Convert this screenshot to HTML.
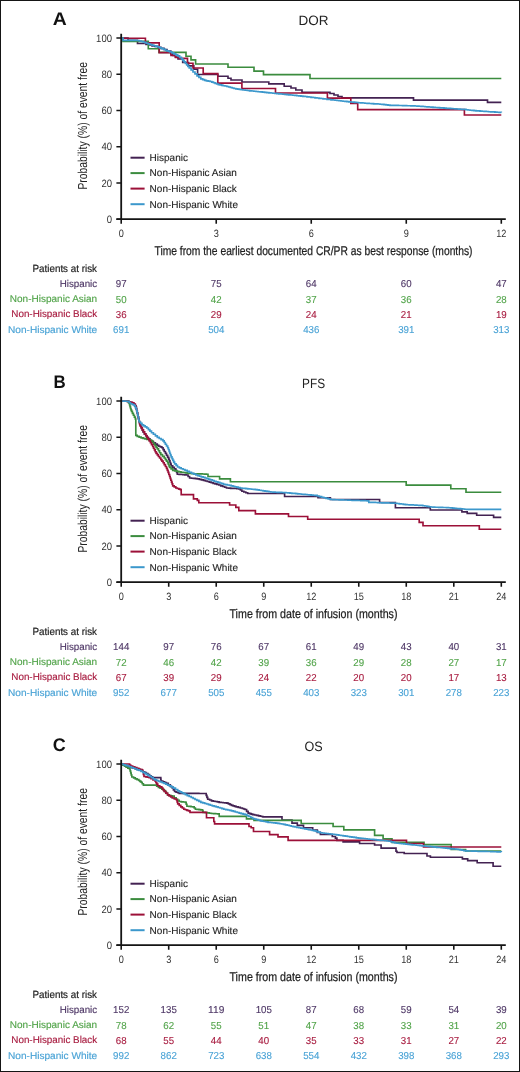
<!DOCTYPE html>
<html><head><meta charset="utf-8"><style>
html,body{margin:0;padding:0;background:#fff;}
body{width:520px;height:1072px;overflow:hidden;}
svg{display:block;font-family:"Liberation Sans",sans-serif;will-change:transform;text-rendering:geometricPrecision;}
</style></head><body>
<svg width="520" height="1072" viewBox="0 0 520 1072">
<rect x="0" y="0" width="520" height="1072" fill="#fff"/>
<text x="52.80" y="25.40" font-size="18.2" text-anchor="start" fill="#111" font-weight="bold" textLength="14.0" lengthAdjust="spacingAndGlyphs" >A</text>
<text x="313.60" y="25.40" font-size="13.5" text-anchor="middle" fill="#222" >DOR</text>
<path d="M121.2,38.0 L128.0,38.0 L128.0,40.3 L137.5,40.3 L137.5,43.5 L144.0,43.5 L144.0,43.5 L146.0,43.5 L146.0,44.5 L149.0,44.5 L149.0,45.0 L152.0,45.0 L152.0,45.8 L155.0,45.8 L155.0,46.4 L158.0,46.4 L158.0,47.2 L161.0,47.2 L161.0,48.3 L164.0,48.3 L164.0,49.5 L167.0,49.5 L167.0,51.0 L170.8,51.0 L170.8,53.8 L173.0,53.8 L173.0,55.4 L175.4,55.4 L175.4,57.0 L178.0,57.0 L178.0,59.0 L182.7,59.0 L182.7,62.5 L188.5,62.5 L188.5,65.9 L193.8,65.9 L193.8,69.2 L197.6,69.2 L197.6,74.5 L217.8,74.5 L217.8,76.2 L228.0,76.2 L228.0,78.2 L231.0,78.2 L231.0,80.0 L242.0,80.0 L242.0,82.0 L268.8,82.0 L268.8,83.8 L284.2,83.8 L284.2,86.2 L291.0,86.2 L291.0,88.0 L295.8,88.0 L295.8,90.0 L302.0,90.0 L302.0,92.3 L330.0,92.3 L330.0,93.5 L334.0,93.5 L334.0,95.0 L338.0,95.0 L338.0,96.5 L342.0,96.5 L342.0,97.8 L413.5,97.8 L413.5,100.1 L487.5,100.1 L487.5,102.3 L501.3,102.3" fill="none" stroke="#432252" stroke-width="1.65" stroke-linejoin="miter"/>
<path d="M121.2,38.0 L123.0,38.0 L123.0,41.3 L148.3,41.3 L148.3,48.7 L159.0,48.7 L159.0,52.3 L186.0,52.3 L186.0,56.2 L191.0,56.2 L191.0,59.8 L195.6,59.8 L195.6,64.0 L228.0,64.0 L228.0,67.2 L254.0,67.2 L254.0,71.1 L263.5,71.1 L263.5,74.6 L310.0,74.6 L310.0,78.5 L501.3,78.5" fill="none" stroke="#3b8c3e" stroke-width="1.65" stroke-linejoin="miter"/>
<path d="M121.2,38.2 L145.4,38.2 L145.4,42.8 L159.2,42.8 L159.2,52.6 L171.0,52.6 L171.0,55.3 L175.5,55.3 L175.5,57.5 L179.0,57.5 L179.0,58.3 L187.5,58.3 L187.5,63.2 L193.0,63.2 L193.0,68.0 L203.2,68.0 L203.2,73.6 L217.8,73.6 L217.8,83.1 L241.9,83.1 L241.9,88.5 L275.5,88.5 L275.5,93.0 L327.4,93.0 L327.4,98.1 L350.8,98.1 L350.8,103.5 L357.7,103.5 L357.7,109.6 L464.4,109.6 L464.4,115.0 L501.3,115.0" fill="none" stroke="#9c1038" stroke-width="1.65" stroke-linejoin="miter"/>
<path d="M121.2,38.0 L123.0,38.0 L123.0,40.3 L125.1,40.3 L125.1,40.3 L127.1,40.3 L127.1,40.4 L129.2,40.4 L129.2,40.4 L131.3,40.4 L131.3,40.4 L133.4,40.4 L133.4,40.4 L135.4,40.4 L135.4,40.5 L137.5,40.5 L137.5,40.5 L139.3,40.5 L139.3,41.0 L141.2,41.0 L141.2,41.5 L143.0,41.5 L143.0,42.0 L144.8,42.0 L144.8,42.6 L146.5,42.6 L146.5,43.2 L148.2,43.2 L148.2,43.9 L150.0,43.9 L150.0,44.5 L151.9,44.5 L151.9,45.1 L153.8,45.1 L153.8,45.7 L155.8,45.7 L155.8,46.3 L157.7,46.3 L157.7,46.9 L159.6,46.9 L159.6,47.8 L161.6,47.8 L161.6,48.6 L163.5,48.6 L163.5,49.4 L165.4,49.4 L165.4,50.3 L166.9,50.3 L166.9,50.8 L168.5,50.8 L168.5,51.4 L170.0,51.4 L170.0,51.9 L171.9,51.9 L171.9,52.9 L173.8,52.9 L173.8,53.8 L175.8,53.8 L175.8,54.8 L177.7,54.8 L177.7,55.8 L179.6,55.8 L179.6,57.3 L181.5,57.3 L181.5,58.8 L182.8,58.8 L182.8,60.4 L184.1,60.4 L184.1,61.9 L185.4,61.9 L185.4,63.5 L186.7,63.5 L186.7,65.0 L187.9,65.0 L187.9,66.5 L189.2,66.5 L189.2,68.0 L191.1,68.0 L191.1,70.0 L193.0,70.0 L193.0,72.0 L195.0,72.0 L195.0,73.9 L197.0,73.9 L197.0,75.8 L198.9,75.8 L198.9,77.3 L200.8,77.3 L200.8,78.8 L202.7,78.8 L202.7,79.6 L204.6,79.6 L204.6,80.4 L206.4,80.4 L206.4,80.8 L208.2,80.8 L208.2,81.1 L210.0,81.1 L210.0,81.5 L211.8,81.5 L211.8,82.1 L213.5,82.1 L213.5,82.7 L215.1,82.7 L215.1,83.3 L216.7,83.3 L216.7,84.0 L218.3,84.0 L218.3,84.6 L220.0,84.6 L220.0,84.9 L221.7,84.9 L221.7,85.3 L223.3,85.3 L223.3,85.7 L225.0,85.7 L225.0,86.0 L226.8,86.0 L226.8,86.5 L228.6,86.5 L228.6,87.0 L230.4,87.0 L230.4,87.5 L232.2,87.5 L232.2,88.0 L234.0,88.0 L234.0,88.5 L235.8,88.5 L235.8,88.8 L237.6,88.8 L237.6,89.1 L239.4,89.1 L239.4,89.4 L241.2,89.4 L241.2,89.7 L243.0,89.7 L243.0,90.0 L245.2,90.0 L245.2,90.2 L247.3,90.2 L247.3,90.5 L249.5,90.5 L249.5,90.8 L251.7,90.8 L251.7,91.0 L253.8,91.0 L253.8,91.2 L256.0,91.2 L256.0,91.5 L258.1,91.5 L258.1,91.7 L260.3,91.7 L260.3,91.9 L262.4,91.9 L262.4,92.1 L264.6,92.1 L264.6,92.4 L266.7,92.4 L266.7,92.6 L268.9,92.6 L268.9,92.8 L271.0,92.8 L271.0,93.0 L272.9,93.0 L272.9,93.2 L274.9,93.2 L274.9,93.4 L276.8,93.4 L276.8,93.6 L278.8,93.6 L278.8,93.8 L280.7,93.8 L280.7,94.0 L282.6,94.0 L282.6,94.2 L284.6,94.2 L284.6,94.4 L286.5,94.4 L286.5,94.6 L288.6,94.6 L288.6,94.8 L290.6,94.8 L290.6,95.0 L292.7,95.0 L292.7,95.2 L294.7,95.2 L294.7,95.4 L296.8,95.4 L296.8,95.7 L298.8,95.7 L298.8,95.9 L300.9,95.9 L300.9,96.1 L302.9,96.1 L302.9,96.3 L305.0,96.3 L305.0,96.5 L307.0,96.5 L307.0,96.8 L309.0,96.8 L309.0,97.0 L311.0,97.0 L311.0,97.3 L313.0,97.3 L313.0,97.5 L315.0,97.5 L315.0,97.8 L317.0,97.8 L317.0,98.0 L319.0,98.0 L319.0,98.3 L321.0,98.3 L321.0,98.5 L323.0,98.5 L323.0,98.8 L325.0,98.8 L325.0,99.0 L327.0,99.0 L327.0,99.3 L329.0,99.3 L329.0,99.5 L331.0,99.5 L331.0,99.8 L333.0,99.8 L333.0,100.0 L335.0,100.0 L335.0,100.2 L337.0,100.2 L337.0,100.5 L339.0,100.5 L339.0,100.7 L341.0,100.7 L341.0,101.0 L343.0,101.0 L343.0,101.2 L344.9,101.2 L344.9,101.4 L346.9,101.4 L346.9,101.6 L348.8,101.6 L348.8,101.8 L350.8,101.8 L350.8,102.0 L352.7,102.0 L352.7,102.1 L354.6,102.1 L354.6,102.3 L356.6,102.3 L356.6,102.5 L358.5,102.5 L358.5,102.7 L360.6,102.7 L360.6,102.9 L362.8,102.9 L362.8,103.0 L364.9,103.0 L364.9,103.2 L367.1,103.2 L367.1,103.3 L369.2,103.3 L369.2,103.5 L371.4,103.5 L371.4,103.6 L373.6,103.6 L373.6,103.8 L375.7,103.8 L375.7,103.9 L377.9,103.9 L377.9,104.0 L380.0,104.0 L380.0,104.2 L382.0,104.2 L382.0,104.4 L384.0,104.4 L384.0,104.6 L386.0,104.6 L386.0,104.9 L388.0,104.9 L388.0,105.1 L390.0,105.1 L390.0,105.3 L392.1,105.3 L392.1,105.3 L394.2,105.3 L394.2,105.4 L396.3,105.4 L396.3,105.4 L398.4,105.4 L398.4,105.5 L400.5,105.5 L400.5,105.5 L402.5,105.5 L402.5,105.6 L404.6,105.6 L404.6,105.6 L406.7,105.6 L406.7,105.7 L408.8,105.7 L408.8,105.7 L410.9,105.7 L410.9,105.8 L413.0,105.8 L413.0,105.8 L415.0,105.8 L415.0,106.0 L417.0,106.0 L417.0,106.1 L419.0,106.1 L419.0,106.2 L421.0,106.2 L421.0,106.4 L423.0,106.4 L423.0,106.5 L425.0,106.5 L425.0,106.7 L427.0,106.7 L427.0,106.8 L429.0,106.8 L429.0,107.0 L431.0,107.0 L431.0,107.1 L433.0,107.1 L433.0,107.3 L435.2,107.3 L435.2,107.5 L437.4,107.5 L437.4,107.6 L439.6,107.6 L439.6,107.8 L441.8,107.8 L441.8,107.9 L444.0,107.9 L444.0,108.1 L446.2,108.1 L446.2,108.3 L448.4,108.3 L448.4,108.4 L450.6,108.4 L450.6,108.6 L452.8,108.6 L452.8,108.7 L455.0,108.7 L455.0,108.9 L456.8,108.9 L456.8,109.0 L458.6,109.0 L458.6,109.1 L460.4,109.1 L460.4,109.2 L462.2,109.2 L462.2,109.3 L464.0,109.3 L464.0,109.4 L466.0,109.4 L466.0,109.7 L468.0,109.7 L468.0,110.0 L470.0,110.0 L470.0,110.2 L472.0,110.2 L472.0,110.4 L474.0,110.4 L474.0,110.6 L476.0,110.6 L476.0,110.8 L478.0,110.8 L478.0,110.9 L480.0,110.9 L480.0,111.1 L482.0,111.1 L482.0,111.2 L484.1,111.2 L484.1,111.4 L486.3,111.4 L486.3,111.5 L488.4,111.5 L488.4,111.7 L490.6,111.7 L490.6,111.8 L492.7,111.8 L492.7,111.9 L494.9,111.9 L494.9,112.1 L497.0,112.1 L497.0,112.2 L499.2,112.2 L499.2,112.4 L501.3,112.4 L501.3,112.5" fill="none" stroke="#3c98cc" stroke-width="1.65" stroke-linejoin="miter"/>
<path d="M121.20,33.80 V219.20 M116.40,219.20 H505.8" stroke="#141414" stroke-width="1.8" fill="none"/>
<path d="M116.40,219.20 H121.20 M116.40,182.96 H121.20 M116.40,146.72 H121.20 M116.40,110.48 H121.20 M116.40,74.24 H121.20 M116.40,38.00 H121.20 M121.20,219.20 V223.70 M216.23,219.20 V223.70 M311.25,219.20 V223.70 M406.27,219.20 V223.70 M501.30,219.20 V223.70 " stroke="#141414" stroke-width="1.6" fill="none"/>
<text x="112.00" y="222.90" font-size="10.6" text-anchor="end" fill="#333" textLength="5.3" lengthAdjust="spacingAndGlyphs" >0</text>
<text x="112.00" y="186.66" font-size="10.6" text-anchor="end" fill="#333" textLength="10.6" lengthAdjust="spacingAndGlyphs" >20</text>
<text x="112.00" y="150.42" font-size="10.6" text-anchor="end" fill="#333" textLength="10.6" lengthAdjust="spacingAndGlyphs" >40</text>
<text x="112.00" y="114.18" font-size="10.6" text-anchor="end" fill="#333" textLength="10.6" lengthAdjust="spacingAndGlyphs" >60</text>
<text x="112.00" y="77.94" font-size="10.6" text-anchor="end" fill="#333" textLength="10.6" lengthAdjust="spacingAndGlyphs" >80</text>
<text x="112.00" y="41.70" font-size="10.6" text-anchor="end" fill="#333" textLength="15.9" lengthAdjust="spacingAndGlyphs" >100</text>
<text x="121.20" y="237.00" font-size="10.6" text-anchor="middle" fill="#333" textLength="5.1" lengthAdjust="spacingAndGlyphs" >0</text>
<text x="216.23" y="237.00" font-size="10.6" text-anchor="middle" fill="#333" textLength="5.1" lengthAdjust="spacingAndGlyphs" >3</text>
<text x="311.25" y="237.00" font-size="10.6" text-anchor="middle" fill="#333" textLength="5.1" lengthAdjust="spacingAndGlyphs" >6</text>
<text x="406.27" y="237.00" font-size="10.6" text-anchor="middle" fill="#333" textLength="5.1" lengthAdjust="spacingAndGlyphs" >9</text>
<text x="501.30" y="237.00" font-size="10.6" text-anchor="middle" fill="#333" textLength="10.2" lengthAdjust="spacingAndGlyphs" >12</text>
<text x="0" y="0" font-size="13" fill="#222" textLength="127.5" lengthAdjust="spacingAndGlyphs" transform="translate(87.0,189.60) rotate(-90)">Probability (%) of event free</text>
<text x="313.50" y="254.80" font-size="12.6" text-anchor="middle" fill="#1e1e1e" textLength="318" lengthAdjust="spacingAndGlyphs" stroke="#1e1e1e" stroke-width="0.25">Time from the earliest documented CR/PR as best response (months)</text>
<path d="M130.5,157.70 H144.6" stroke="#432252" stroke-width="2"/>
<text x="149.60" y="161.00" font-size="10.0" text-anchor="start" fill="#1e1e1e" stroke="#1e1e1e" stroke-width="0.12">Hispanic</text>
<path d="M130.5,173.10 H144.6" stroke="#3b8c3e" stroke-width="2"/>
<text x="149.60" y="176.40" font-size="10.0" text-anchor="start" fill="#1e1e1e" stroke="#1e1e1e" stroke-width="0.12">Non-Hispanic Asian</text>
<path d="M130.5,188.60 H144.6" stroke="#9c1038" stroke-width="2"/>
<text x="149.60" y="191.90" font-size="10.0" text-anchor="start" fill="#1e1e1e" stroke="#1e1e1e" stroke-width="0.12">Non-Hispanic Black</text>
<path d="M130.5,204.20 H144.6" stroke="#3c98cc" stroke-width="2"/>
<text x="149.60" y="207.50" font-size="10.0" text-anchor="start" fill="#1e1e1e" stroke="#1e1e1e" stroke-width="0.12">Non-Hispanic White</text>
<text x="97.00" y="271.50" font-size="10.4" text-anchor="end" fill="#1e1e1e" textLength="64.5" lengthAdjust="spacingAndGlyphs" stroke="#1e1e1e" stroke-width="0.2">Patients at risk</text>
<text x="97.20" y="286.50" font-size="9.9" text-anchor="end" fill="#4e3766" textLength="37.5" lengthAdjust="spacingAndGlyphs" stroke="#4e3766" stroke-width="0.15">Hispanic</text>
<text x="121.20" y="286.90" font-size="10.1" text-anchor="middle" fill="#4e3766" textLength="10.8" lengthAdjust="spacingAndGlyphs" stroke="#4e3766" stroke-width="0.12">97</text>
<text x="216.23" y="286.90" font-size="10.1" text-anchor="middle" fill="#4e3766" textLength="10.8" lengthAdjust="spacingAndGlyphs" stroke="#4e3766" stroke-width="0.12">75</text>
<text x="311.25" y="286.90" font-size="10.1" text-anchor="middle" fill="#4e3766" textLength="10.8" lengthAdjust="spacingAndGlyphs" stroke="#4e3766" stroke-width="0.12">64</text>
<text x="406.27" y="286.90" font-size="10.1" text-anchor="middle" fill="#4e3766" textLength="10.8" lengthAdjust="spacingAndGlyphs" stroke="#4e3766" stroke-width="0.12">60</text>
<text x="501.30" y="286.90" font-size="10.1" text-anchor="middle" fill="#4e3766" textLength="10.8" lengthAdjust="spacingAndGlyphs" stroke="#4e3766" stroke-width="0.12">47</text>
<text x="97.20" y="302.10" font-size="9.9" text-anchor="end" fill="#52a44a" textLength="87.4" lengthAdjust="spacingAndGlyphs" stroke="#52a44a" stroke-width="0.15">Non-Hispanic Asian</text>
<text x="121.20" y="302.50" font-size="10.1" text-anchor="middle" fill="#52a44a" textLength="10.8" lengthAdjust="spacingAndGlyphs" stroke="#52a44a" stroke-width="0.12">50</text>
<text x="216.23" y="302.50" font-size="10.1" text-anchor="middle" fill="#52a44a" textLength="10.8" lengthAdjust="spacingAndGlyphs" stroke="#52a44a" stroke-width="0.12">42</text>
<text x="311.25" y="302.50" font-size="10.1" text-anchor="middle" fill="#52a44a" textLength="10.8" lengthAdjust="spacingAndGlyphs" stroke="#52a44a" stroke-width="0.12">37</text>
<text x="406.27" y="302.50" font-size="10.1" text-anchor="middle" fill="#52a44a" textLength="10.8" lengthAdjust="spacingAndGlyphs" stroke="#52a44a" stroke-width="0.12">36</text>
<text x="501.30" y="302.50" font-size="10.1" text-anchor="middle" fill="#52a44a" textLength="10.8" lengthAdjust="spacingAndGlyphs" stroke="#52a44a" stroke-width="0.12">28</text>
<text x="97.20" y="317.40" font-size="9.9" text-anchor="end" fill="#a81c40" textLength="85.9" lengthAdjust="spacingAndGlyphs" stroke="#a81c40" stroke-width="0.15">Non-Hispanic Black</text>
<text x="121.20" y="317.80" font-size="10.1" text-anchor="middle" fill="#a81c40" textLength="10.8" lengthAdjust="spacingAndGlyphs" stroke="#a81c40" stroke-width="0.12">36</text>
<text x="216.23" y="317.80" font-size="10.1" text-anchor="middle" fill="#a81c40" textLength="10.8" lengthAdjust="spacingAndGlyphs" stroke="#a81c40" stroke-width="0.12">29</text>
<text x="311.25" y="317.80" font-size="10.1" text-anchor="middle" fill="#a81c40" textLength="10.8" lengthAdjust="spacingAndGlyphs" stroke="#a81c40" stroke-width="0.12">24</text>
<text x="406.27" y="317.80" font-size="10.1" text-anchor="middle" fill="#a81c40" textLength="10.8" lengthAdjust="spacingAndGlyphs" stroke="#a81c40" stroke-width="0.12">21</text>
<text x="501.30" y="317.80" font-size="10.1" text-anchor="middle" fill="#a81c40" textLength="10.8" lengthAdjust="spacingAndGlyphs" stroke="#a81c40" stroke-width="0.12">19</text>
<text x="97.20" y="332.80" font-size="9.9" text-anchor="end" fill="#4aa3d6" textLength="89.2" lengthAdjust="spacingAndGlyphs" stroke="#4aa3d6" stroke-width="0.15">Non-Hispanic White</text>
<text x="121.20" y="333.30" font-size="10.1" text-anchor="middle" fill="#4aa3d6" textLength="16.2" lengthAdjust="spacingAndGlyphs" stroke="#4aa3d6" stroke-width="0.12">691</text>
<text x="216.23" y="333.30" font-size="10.1" text-anchor="middle" fill="#4aa3d6" textLength="16.2" lengthAdjust="spacingAndGlyphs" stroke="#4aa3d6" stroke-width="0.12">504</text>
<text x="311.25" y="333.30" font-size="10.1" text-anchor="middle" fill="#4aa3d6" textLength="16.2" lengthAdjust="spacingAndGlyphs" stroke="#4aa3d6" stroke-width="0.12">436</text>
<text x="406.27" y="333.30" font-size="10.1" text-anchor="middle" fill="#4aa3d6" textLength="16.2" lengthAdjust="spacingAndGlyphs" stroke="#4aa3d6" stroke-width="0.12">391</text>
<text x="501.30" y="333.30" font-size="10.1" text-anchor="middle" fill="#4aa3d6" textLength="16.2" lengthAdjust="spacingAndGlyphs" stroke="#4aa3d6" stroke-width="0.12">313</text>
<text x="53.60" y="388.40" font-size="18.2" text-anchor="start" fill="#111" font-weight="bold" textLength="12.2" lengthAdjust="spacingAndGlyphs" >B</text>
<text x="313.60" y="388.40" font-size="13.5" text-anchor="middle" fill="#222" textLength="23.0" lengthAdjust="spacingAndGlyphs" >PFS</text>
<path d="M121.2,401.0 L127.0,401.0 L128.5,401.0 L128.5,401.8 L130.0,401.8 L130.0,402.5 L132.0,402.5 L132.0,403.5 L134.0,403.5 L134.0,404.5 L135.0,404.5 L135.0,405.8 L136.0,405.8 L136.0,407.0 L136.4,407.0 L136.4,409.0 L136.8,409.0 L136.8,411.0 L137.3,411.0 L137.3,413.0 L137.7,413.0 L137.7,415.0 L138.1,415.0 L138.1,417.0 L138.6,417.0 L138.6,419.0 L139.1,419.0 L139.1,421.0 L139.5,421.0 L139.5,423.0 L140.2,423.0 L140.2,424.8 L140.9,424.8 L140.9,426.6 L141.6,426.6 L141.6,428.4 L142.3,428.4 L142.3,430.2 L143.0,430.2 L143.0,432.0 L144.3,432.0 L144.3,433.8 L145.7,433.8 L145.7,435.7 L147.0,435.7 L147.0,437.5 L148.5,437.5 L148.5,438.8 L150.0,438.8 L150.0,440.2 L151.5,440.2 L151.5,441.5 L153.4,441.5 L153.4,442.8 L155.4,442.8 L155.4,444.1 L157.3,444.1 L157.3,445.4 L158.8,445.4 L158.8,446.2 L160.4,446.2 L160.4,446.9 L161.9,446.9 L161.9,447.7 L163.1,447.7 L163.1,449.6 L164.2,449.6 L164.2,451.5 L165.4,451.5 L165.4,453.4 L166.5,453.4 L166.5,455.3 L167.7,455.3 L167.7,457.3 L168.8,457.3 L168.8,459.2 L169.4,459.2 L169.4,460.9 L170.0,460.9 L170.0,462.5 L170.6,462.5 L170.6,464.1 L171.2,464.1 L171.2,465.8 L172.7,465.8 L172.7,467.3 L174.3,467.3 L174.3,468.9 L175.8,468.9 L175.8,470.4 L176.6,470.4 L176.6,472.3 L177.3,472.3 L177.3,474.2 L179.1,474.2 L179.1,474.4 L181.0,474.4 L181.0,474.5 L182.8,474.5 L182.8,474.7 L184.7,474.7 L184.7,474.8 L186.5,474.8 L186.5,475.0 L188.1,475.0 L188.1,476.5 L189.6,476.5 L189.6,478.0 L191.5,478.0 L191.5,478.2 L193.4,478.2 L193.4,478.4 L195.4,478.4 L195.4,478.6 L197.3,478.6 L197.3,478.8 L199.4,478.8 L199.4,479.3 L201.4,479.3 L201.4,479.9 L203.5,479.9 L203.5,480.4 L205.4,480.4 L205.4,481.0 L207.3,481.0 L207.3,481.5 L209.3,481.5 L209.3,482.1 L211.2,482.1 L211.2,482.7 L213.1,482.7 L213.1,483.3 L215.0,483.3 L215.0,483.9 L216.9,483.9 L216.9,484.4 L218.8,484.4 L218.8,485.0 L220.7,485.0 L220.7,485.8 L222.7,485.8 L222.7,486.5 L224.6,486.5 L224.6,487.2 L226.5,487.2 L226.5,488.0 L228.6,488.0 L228.6,488.1 L230.6,488.1 L230.6,488.3 L232.7,488.3 L232.7,488.4 L234.7,488.4 L234.7,488.5 L236.8,488.5 L236.8,488.7 L238.8,488.7 L238.8,488.8 L240.4,488.8 L240.4,490.0 L241.9,490.0 L241.9,491.2 L243.8,491.2 L243.8,492.0 L245.8,492.0 L245.8,492.7 L247.7,492.7 L247.7,493.5 L284.6,493.5 L284.6,496.5 L318.0,496.5 L318.0,497.7 L330.4,497.7 L330.4,499.5 L379.6,499.5 L379.6,502.5 L395.4,502.5 L395.4,507.7 L430.3,507.7 L430.3,510.0 L461.9,510.0 L461.9,511.8 L467.2,511.8 L467.2,513.3 L476.7,513.3 L476.7,515.2 L493.6,515.2 L493.6,517.3 L501.3,517.3" fill="none" stroke="#432252" stroke-width="1.65" stroke-linejoin="miter"/>
<path d="M121.2,401.0 L123.3,401.0 L123.3,401.1 L125.5,401.1 L125.5,401.2 L127.6,401.2 L127.6,401.3 L128.6,401.3 L128.6,403.0 L129.5,403.0 L129.5,404.7 L130.0,404.7 L130.0,406.6 L130.5,406.6 L130.5,408.5 L131.0,408.5 L131.0,409.9 L131.5,409.9 L131.5,411.4 L132.4,411.4 L132.4,413.3 L133.4,413.3 L133.4,415.2 L134.4,415.2 L134.4,417.1 L135.3,417.1 L135.3,419.0 L135.8,419.0 L135.8,435.4 L137.2,435.4 L137.2,436.4 L139.1,436.4 L139.1,437.1 L141.1,437.1 L141.1,437.8 L143.1,437.8 L143.1,438.3 L145.0,438.3 L145.0,438.8 L146.9,438.8 L146.9,439.3 L148.8,439.3 L148.8,439.8 L150.2,439.8 L150.2,440.3 L151.5,440.3 L151.5,440.8 L152.7,440.8 L152.7,442.5 L153.8,442.5 L153.8,444.2 L155.0,444.2 L155.0,445.7 L156.1,445.7 L156.1,447.3 L157.3,447.3 L157.3,448.8 L158.5,448.8 L158.5,450.7 L159.6,450.7 L159.6,452.7 L160.8,452.7 L160.8,454.6 L162.5,454.6 L162.5,456.3 L164.2,456.3 L164.2,458.0 L165.4,458.0 L165.4,459.6 L166.5,459.6 L166.5,461.1 L167.7,461.1 L167.7,462.7 L168.3,462.7 L168.3,464.2 L169.0,464.2 L169.0,465.8 L169.6,465.8 L169.6,467.3 L171.1,467.3 L171.1,468.9 L172.7,468.9 L172.7,470.4 L174.7,470.4 L174.7,470.9 L176.8,470.9 L176.8,471.4 L178.8,471.4 L178.8,471.9 L181.0,471.9 L181.0,472.2 L183.1,472.2 L183.1,472.5 L185.3,472.5 L185.3,472.9 L187.4,472.9 L187.4,473.2 L189.6,473.2 L189.6,473.5 L191.7,473.5 L191.7,473.6 L193.8,473.6 L193.8,473.7 L195.9,473.7 L195.9,473.8 L198.1,473.8 L198.1,473.9 L200.2,473.9 L200.2,473.9 L202.3,473.9 L202.3,474.0 L204.4,474.0 L204.4,474.1 L206.5,474.1 L206.5,474.2 L208.0,474.2 L208.0,476.5 L219.6,476.5 L219.6,478.8 L230.4,478.8 L230.4,481.7 L406.2,481.7 L406.2,485.1 L450.8,485.1 L450.8,488.7 L466.0,488.7 L466.0,492.2 L501.3,492.2" fill="none" stroke="#3b8c3e" stroke-width="1.65" stroke-linejoin="miter"/>
<path d="M121.2,401.0 L123.1,401.0 L123.1,401.1 L125.1,401.1 L125.1,401.2 L127.0,401.2 L127.0,401.3 L128.8,401.3 L128.8,401.8 L130.6,401.8 L130.6,402.2 L132.4,402.2 L132.4,402.7 L133.9,402.7 L133.9,404.1 L135.3,404.1 L135.3,405.6 L135.8,405.6 L135.8,407.5 L136.3,407.5 L136.3,409.4 L136.7,409.4 L136.7,411.2 L137.2,411.2 L137.2,413.1 L137.7,413.1 L137.7,415.0 L138.1,415.0 L138.1,416.8 L138.4,416.8 L138.4,418.5 L138.8,418.5 L138.8,420.2 L139.2,420.2 L139.2,422.0 L139.6,422.0 L139.6,423.9 L140.1,423.9 L140.1,425.8 L141.2,425.8 L141.2,427.8 L142.3,427.8 L142.3,429.8 L143.5,429.8 L143.5,431.8 L144.6,431.8 L144.6,433.8 L145.8,433.8 L145.8,435.6 L146.9,435.6 L146.9,437.3 L148.0,437.3 L148.0,439.1 L149.2,439.1 L149.2,440.8 L150.4,440.8 L150.4,442.7 L151.5,442.7 L151.5,444.6 L152.7,444.6 L152.7,446.5 L153.5,446.5 L153.5,448.2 L154.4,448.2 L154.4,449.9 L155.2,449.9 L155.2,451.7 L156.1,451.7 L156.1,453.4 L157.3,453.4 L157.3,454.9 L158.4,454.9 L158.4,456.5 L159.6,456.5 L159.6,458.0 L160.8,458.0 L160.8,459.6 L161.9,459.6 L161.9,461.1 L163.1,461.1 L163.1,462.7 L164.2,462.7 L164.2,464.6 L165.4,464.6 L165.4,466.5 L166.5,466.5 L166.5,468.4 L167.3,468.4 L167.3,470.4 L168.1,470.4 L168.1,472.4 L168.8,472.4 L168.8,474.5 L169.6,474.5 L169.6,476.5 L170.2,476.5 L170.2,478.4 L170.8,478.4 L170.8,480.2 L171.5,480.2 L171.5,482.1 L172.1,482.1 L172.1,483.9 L172.7,483.9 L172.7,485.8 L174.2,485.8 L174.2,486.9 L175.8,486.9 L175.8,488.0 L177.3,488.0 L177.3,488.5 L178.9,488.5 L178.9,489.1 L180.4,489.1 L180.4,489.6 L181.2,489.6 L181.2,494.6 L193.5,494.6 L193.5,498.8 L197.3,498.8 L197.3,500.4 L198.8,500.4 L198.8,502.7 L229.6,502.7 L229.6,505.0 L235.8,505.0 L235.8,507.3 L238.8,507.3 L238.8,510.6 L255.4,510.6 L255.4,513.9 L288.5,513.9 L288.5,516.5 L307.7,516.5 L307.7,519.2 L419.2,519.2 L419.2,522.3 L423.0,522.3 L423.0,525.7 L479.3,525.7 L479.3,529.2 L501.3,529.2" fill="none" stroke="#9c1038" stroke-width="1.65" stroke-linejoin="miter"/>
<path d="M121.2,401.0 L123.3,401.0 L123.3,401.1 L125.5,401.1 L125.5,401.2 L127.6,401.2 L127.6,401.3 L129.1,401.3 L129.1,402.5 L130.5,402.5 L130.5,403.7 L132.4,403.7 L132.4,404.6 L134.3,404.6 L134.3,405.6 L135.3,405.6 L135.3,407.6 L136.3,407.6 L136.3,409.5 L136.8,409.5 L136.8,411.4 L137.2,411.4 L137.2,413.3 L137.7,413.3 L137.7,415.2 L138.1,415.2 L138.1,416.9 L138.4,416.9 L138.4,418.6 L138.8,418.6 L138.8,420.3 L139.2,420.3 L139.2,422.0 L140.6,422.0 L140.6,423.4 L142.0,423.4 L142.0,424.8 L143.6,424.8 L143.6,425.9 L145.2,425.9 L145.2,426.9 L146.8,426.9 L146.8,428.0 L148.4,428.0 L148.4,429.6 L149.9,429.6 L149.9,431.1 L151.5,431.1 L151.5,432.7 L153.4,432.7 L153.4,434.2 L155.4,434.2 L155.4,435.8 L157.3,435.8 L157.3,437.3 L159.2,437.3 L159.2,438.5 L161.1,438.5 L161.1,439.6 L163.0,439.6 L163.0,440.8 L164.2,440.8 L164.2,442.5 L165.3,442.5 L165.3,444.2 L166.5,444.2 L166.5,446.0 L167.7,446.0 L167.7,447.7 L168.4,447.7 L168.4,449.5 L169.1,449.5 L169.1,451.4 L169.7,451.4 L169.7,453.2 L170.4,453.2 L170.4,455.1 L171.1,455.1 L171.1,456.9 L172.0,456.9 L172.0,458.6 L172.8,458.6 L172.8,460.4 L173.7,460.4 L173.7,462.1 L174.6,462.1 L174.6,463.8 L176.1,463.8 L176.1,465.4 L177.5,465.4 L177.5,467.0 L179.4,467.0 L179.4,467.9 L181.2,467.9 L181.2,468.7 L183.1,468.7 L183.1,469.5 L185.0,469.5 L185.0,470.4 L187.2,470.4 L187.2,471.3 L189.3,471.3 L189.3,472.2 L191.5,472.2 L191.5,473.2 L193.6,473.2 L193.6,474.1 L195.8,474.1 L195.8,475.0 L197.6,475.0 L197.6,475.6 L199.5,475.6 L199.5,476.2 L201.3,476.2 L201.3,476.8 L203.2,476.8 L203.2,477.4 L205.0,477.4 L205.0,478.0 L206.8,478.0 L206.8,478.6 L208.7,478.6 L208.7,479.3 L210.5,479.3 L210.5,479.9 L212.4,479.9 L212.4,480.6 L214.2,480.6 L214.2,481.2 L216.1,481.2 L216.1,481.8 L217.9,481.8 L217.9,482.4 L219.8,482.4 L219.8,483.0 L221.6,483.0 L221.6,483.6 L223.5,483.6 L223.5,484.2 L225.4,484.2 L225.4,484.6 L227.3,484.6 L227.3,485.0 L229.3,485.0 L229.3,485.4 L231.2,485.4 L231.2,485.8 L233.0,485.8 L233.0,486.2 L234.7,486.2 L234.7,486.7 L236.5,486.7 L236.5,487.1 L238.2,487.1 L238.2,487.6 L240.0,487.6 L240.0,488.0 L241.9,488.0 L241.9,488.2 L243.8,488.2 L243.8,488.4 L245.8,488.4 L245.8,488.6 L247.7,488.6 L247.7,488.8 L249.6,488.8 L249.6,489.0 L251.6,489.0 L251.6,489.2 L253.5,489.2 L253.5,489.4 L255.4,489.4 L255.4,489.6 L257.3,489.6 L257.3,489.9 L259.2,489.9 L259.2,490.2 L261.2,490.2 L261.2,490.5 L263.1,490.5 L263.1,490.8 L265.0,490.8 L265.0,491.1 L266.9,491.1 L266.9,491.4 L268.9,491.4 L268.9,491.7 L270.8,491.7 L270.8,492.0 L273.0,492.0 L273.0,492.1 L275.1,492.1 L275.1,492.2 L277.3,492.2 L277.3,492.3 L279.5,492.3 L279.5,492.4 L281.7,492.4 L281.7,492.5 L283.8,492.5 L283.8,492.6 L286.0,492.6 L286.0,492.7 L287.9,492.7 L287.9,492.9 L289.9,492.9 L289.9,493.1 L291.8,493.1 L291.8,493.3 L293.8,493.3 L293.8,493.4 L295.7,493.4 L295.7,493.6 L297.6,493.6 L297.6,493.8 L299.6,493.8 L299.6,494.0 L301.5,494.0 L301.5,494.2 L303.4,494.2 L303.4,494.4 L305.4,494.4 L305.4,494.5 L307.3,494.5 L307.3,494.7 L309.2,494.7 L309.2,494.9 L311.1,494.9 L311.1,495.1 L313.1,495.1 L313.1,495.2 L315.0,495.2 L315.0,495.4 L317.2,495.4 L317.2,496.0 L319.4,496.0 L319.4,496.6 L321.6,496.6 L321.6,497.2 L323.8,497.2 L323.8,497.7 L326.0,497.7 L326.0,498.3 L328.2,498.3 L328.2,498.9 L330.4,498.9 L330.4,499.5 L332.6,499.5 L332.6,499.6 L334.7,499.6 L334.7,499.7 L336.9,499.7 L336.9,499.7 L339.1,499.7 L339.1,499.8 L341.3,499.8 L341.3,499.9 L343.4,499.9 L343.4,500.0 L345.6,500.0 L345.6,500.0 L347.8,500.0 L347.8,500.1 L349.9,500.1 L349.9,500.2 L352.1,500.2 L352.1,500.3 L354.3,500.3 L354.3,500.3 L356.4,500.3 L356.4,500.4 L358.6,500.4 L358.6,500.5 L360.8,500.5 L360.8,500.6 L363.0,500.6 L363.0,500.6 L365.1,500.6 L365.1,500.7 L367.3,500.7 L367.3,500.8 L368.8,500.8 L368.8,502.3 L371.0,502.3 L371.0,502.4 L373.2,502.4 L373.2,502.4 L375.4,502.4 L375.4,502.5 L377.5,502.5 L377.5,502.6 L379.7,502.6 L379.7,502.7 L381.9,502.7 L381.9,502.8 L384.1,502.8 L384.1,502.8 L386.3,502.8 L386.3,502.9 L388.4,502.9 L388.4,503.0 L390.6,503.0 L390.6,503.1 L392.8,503.1 L392.8,503.1 L395.0,503.1 L395.0,503.2 L397.1,503.2 L397.1,503.5 L399.2,503.5 L399.2,503.8 L401.2,503.8 L401.2,504.0 L403.3,504.0 L403.3,504.3 L405.4,504.3 L405.4,504.6 L407.3,504.6 L407.3,504.7 L409.2,504.7 L409.2,504.8 L411.2,504.8 L411.2,504.9 L413.1,504.9 L413.1,505.0 L415.0,505.0 L415.0,505.1 L416.9,505.1 L416.9,505.2 L418.9,505.2 L418.9,505.3 L420.8,505.3 L420.8,505.4 L422.8,505.4 L422.8,505.7 L424.8,505.7 L424.8,506.0 L426.8,506.0 L426.8,506.4 L428.8,506.4 L428.8,506.7 L430.8,506.7 L430.8,507.0 L432.8,507.0 L432.8,507.1 L434.7,507.1 L434.7,507.2 L436.7,507.2 L436.7,507.2 L438.7,507.2 L438.7,507.3 L440.6,507.3 L440.6,507.4 L442.6,507.4 L442.6,507.5 L444.6,507.5 L444.6,507.5 L446.5,507.5 L446.5,507.6 L448.5,507.6 L448.5,507.7 L450.5,507.7 L450.5,507.9 L452.5,507.9 L452.5,508.1 L454.5,508.1 L454.5,508.3 L456.5,508.3 L456.5,508.5 L458.6,508.5 L458.6,508.6 L460.6,508.6 L460.6,508.8 L462.6,508.8 L462.6,509.0 L464.6,509.0 L464.6,509.2 L466.6,509.2 L466.6,509.4 L501.3,509.4" fill="none" stroke="#3c98cc" stroke-width="1.65" stroke-linejoin="miter"/>
<path d="M121.20,396.80 V582.20 M116.40,582.20 H505.8" stroke="#141414" stroke-width="1.8" fill="none"/>
<path d="M116.40,582.20 H121.20 M116.40,545.96 H121.20 M116.40,509.72 H121.20 M116.40,473.48 H121.20 M116.40,437.24 H121.20 M116.40,401.00 H121.20 M121.20,582.20 V586.70 M168.71,582.20 V586.70 M216.23,582.20 V586.70 M263.74,582.20 V586.70 M311.25,582.20 V586.70 M358.76,582.20 V586.70 M406.27,582.20 V586.70 M453.79,582.20 V586.70 M501.30,582.20 V586.70 " stroke="#141414" stroke-width="1.6" fill="none"/>
<text x="112.00" y="585.90" font-size="10.6" text-anchor="end" fill="#333" textLength="5.3" lengthAdjust="spacingAndGlyphs" >0</text>
<text x="112.00" y="549.66" font-size="10.6" text-anchor="end" fill="#333" textLength="10.6" lengthAdjust="spacingAndGlyphs" >20</text>
<text x="112.00" y="513.42" font-size="10.6" text-anchor="end" fill="#333" textLength="10.6" lengthAdjust="spacingAndGlyphs" >40</text>
<text x="112.00" y="477.18" font-size="10.6" text-anchor="end" fill="#333" textLength="10.6" lengthAdjust="spacingAndGlyphs" >60</text>
<text x="112.00" y="440.94" font-size="10.6" text-anchor="end" fill="#333" textLength="10.6" lengthAdjust="spacingAndGlyphs" >80</text>
<text x="112.00" y="404.70" font-size="10.6" text-anchor="end" fill="#333" textLength="15.9" lengthAdjust="spacingAndGlyphs" >100</text>
<text x="121.20" y="600.00" font-size="10.6" text-anchor="middle" fill="#333" textLength="5.1" lengthAdjust="spacingAndGlyphs" >0</text>
<text x="168.71" y="600.00" font-size="10.6" text-anchor="middle" fill="#333" textLength="5.1" lengthAdjust="spacingAndGlyphs" >3</text>
<text x="216.23" y="600.00" font-size="10.6" text-anchor="middle" fill="#333" textLength="5.1" lengthAdjust="spacingAndGlyphs" >6</text>
<text x="263.74" y="600.00" font-size="10.6" text-anchor="middle" fill="#333" textLength="5.1" lengthAdjust="spacingAndGlyphs" >9</text>
<text x="311.25" y="600.00" font-size="10.6" text-anchor="middle" fill="#333" textLength="10.2" lengthAdjust="spacingAndGlyphs" >12</text>
<text x="358.76" y="600.00" font-size="10.6" text-anchor="middle" fill="#333" textLength="10.2" lengthAdjust="spacingAndGlyphs" >15</text>
<text x="406.27" y="600.00" font-size="10.6" text-anchor="middle" fill="#333" textLength="10.2" lengthAdjust="spacingAndGlyphs" >18</text>
<text x="453.79" y="600.00" font-size="10.6" text-anchor="middle" fill="#333" textLength="10.2" lengthAdjust="spacingAndGlyphs" >21</text>
<text x="501.30" y="600.00" font-size="10.6" text-anchor="middle" fill="#333" textLength="10.2" lengthAdjust="spacingAndGlyphs" >24</text>
<text x="0" y="0" font-size="13" fill="#222" textLength="127.5" lengthAdjust="spacingAndGlyphs" transform="translate(87.0,552.60) rotate(-90)">Probability (%) of event free</text>
<text x="313.50" y="617.80" font-size="12.6" text-anchor="middle" fill="#1e1e1e" textLength="168" lengthAdjust="spacingAndGlyphs" stroke="#1e1e1e" stroke-width="0.25">Time from date of infusion (months)</text>
<path d="M130.5,520.70 H144.6" stroke="#432252" stroke-width="2"/>
<text x="149.60" y="524.00" font-size="10.0" text-anchor="start" fill="#1e1e1e" stroke="#1e1e1e" stroke-width="0.12">Hispanic</text>
<path d="M130.5,536.10 H144.6" stroke="#3b8c3e" stroke-width="2"/>
<text x="149.60" y="539.40" font-size="10.0" text-anchor="start" fill="#1e1e1e" stroke="#1e1e1e" stroke-width="0.12">Non-Hispanic Asian</text>
<path d="M130.5,551.60 H144.6" stroke="#9c1038" stroke-width="2"/>
<text x="149.60" y="554.90" font-size="10.0" text-anchor="start" fill="#1e1e1e" stroke="#1e1e1e" stroke-width="0.12">Non-Hispanic Black</text>
<path d="M130.5,567.20 H144.6" stroke="#3c98cc" stroke-width="2"/>
<text x="149.60" y="570.50" font-size="10.0" text-anchor="start" fill="#1e1e1e" stroke="#1e1e1e" stroke-width="0.12">Non-Hispanic White</text>
<text x="97.00" y="634.50" font-size="10.4" text-anchor="end" fill="#1e1e1e" textLength="64.5" lengthAdjust="spacingAndGlyphs" stroke="#1e1e1e" stroke-width="0.2">Patients at risk</text>
<text x="97.20" y="649.50" font-size="9.9" text-anchor="end" fill="#4e3766" textLength="37.5" lengthAdjust="spacingAndGlyphs" stroke="#4e3766" stroke-width="0.15">Hispanic</text>
<text x="121.20" y="649.90" font-size="10.1" text-anchor="middle" fill="#4e3766" textLength="16.2" lengthAdjust="spacingAndGlyphs" stroke="#4e3766" stroke-width="0.12">144</text>
<text x="168.71" y="649.90" font-size="10.1" text-anchor="middle" fill="#4e3766" textLength="10.8" lengthAdjust="spacingAndGlyphs" stroke="#4e3766" stroke-width="0.12">97</text>
<text x="216.23" y="649.90" font-size="10.1" text-anchor="middle" fill="#4e3766" textLength="10.8" lengthAdjust="spacingAndGlyphs" stroke="#4e3766" stroke-width="0.12">76</text>
<text x="263.74" y="649.90" font-size="10.1" text-anchor="middle" fill="#4e3766" textLength="10.8" lengthAdjust="spacingAndGlyphs" stroke="#4e3766" stroke-width="0.12">67</text>
<text x="311.25" y="649.90" font-size="10.1" text-anchor="middle" fill="#4e3766" textLength="10.8" lengthAdjust="spacingAndGlyphs" stroke="#4e3766" stroke-width="0.12">61</text>
<text x="358.76" y="649.90" font-size="10.1" text-anchor="middle" fill="#4e3766" textLength="10.8" lengthAdjust="spacingAndGlyphs" stroke="#4e3766" stroke-width="0.12">49</text>
<text x="406.27" y="649.90" font-size="10.1" text-anchor="middle" fill="#4e3766" textLength="10.8" lengthAdjust="spacingAndGlyphs" stroke="#4e3766" stroke-width="0.12">43</text>
<text x="453.79" y="649.90" font-size="10.1" text-anchor="middle" fill="#4e3766" textLength="10.8" lengthAdjust="spacingAndGlyphs" stroke="#4e3766" stroke-width="0.12">40</text>
<text x="501.30" y="649.90" font-size="10.1" text-anchor="middle" fill="#4e3766" textLength="10.8" lengthAdjust="spacingAndGlyphs" stroke="#4e3766" stroke-width="0.12">31</text>
<text x="97.20" y="665.10" font-size="9.9" text-anchor="end" fill="#52a44a" textLength="87.4" lengthAdjust="spacingAndGlyphs" stroke="#52a44a" stroke-width="0.15">Non-Hispanic Asian</text>
<text x="121.20" y="665.50" font-size="10.1" text-anchor="middle" fill="#52a44a" textLength="10.8" lengthAdjust="spacingAndGlyphs" stroke="#52a44a" stroke-width="0.12">72</text>
<text x="168.71" y="665.50" font-size="10.1" text-anchor="middle" fill="#52a44a" textLength="10.8" lengthAdjust="spacingAndGlyphs" stroke="#52a44a" stroke-width="0.12">46</text>
<text x="216.23" y="665.50" font-size="10.1" text-anchor="middle" fill="#52a44a" textLength="10.8" lengthAdjust="spacingAndGlyphs" stroke="#52a44a" stroke-width="0.12">42</text>
<text x="263.74" y="665.50" font-size="10.1" text-anchor="middle" fill="#52a44a" textLength="10.8" lengthAdjust="spacingAndGlyphs" stroke="#52a44a" stroke-width="0.12">39</text>
<text x="311.25" y="665.50" font-size="10.1" text-anchor="middle" fill="#52a44a" textLength="10.8" lengthAdjust="spacingAndGlyphs" stroke="#52a44a" stroke-width="0.12">36</text>
<text x="358.76" y="665.50" font-size="10.1" text-anchor="middle" fill="#52a44a" textLength="10.8" lengthAdjust="spacingAndGlyphs" stroke="#52a44a" stroke-width="0.12">29</text>
<text x="406.27" y="665.50" font-size="10.1" text-anchor="middle" fill="#52a44a" textLength="10.8" lengthAdjust="spacingAndGlyphs" stroke="#52a44a" stroke-width="0.12">28</text>
<text x="453.79" y="665.50" font-size="10.1" text-anchor="middle" fill="#52a44a" textLength="10.8" lengthAdjust="spacingAndGlyphs" stroke="#52a44a" stroke-width="0.12">27</text>
<text x="501.30" y="665.50" font-size="10.1" text-anchor="middle" fill="#52a44a" textLength="10.8" lengthAdjust="spacingAndGlyphs" stroke="#52a44a" stroke-width="0.12">17</text>
<text x="97.20" y="680.40" font-size="9.9" text-anchor="end" fill="#a81c40" textLength="85.9" lengthAdjust="spacingAndGlyphs" stroke="#a81c40" stroke-width="0.15">Non-Hispanic Black</text>
<text x="121.20" y="680.80" font-size="10.1" text-anchor="middle" fill="#a81c40" textLength="10.8" lengthAdjust="spacingAndGlyphs" stroke="#a81c40" stroke-width="0.12">67</text>
<text x="168.71" y="680.80" font-size="10.1" text-anchor="middle" fill="#a81c40" textLength="10.8" lengthAdjust="spacingAndGlyphs" stroke="#a81c40" stroke-width="0.12">39</text>
<text x="216.23" y="680.80" font-size="10.1" text-anchor="middle" fill="#a81c40" textLength="10.8" lengthAdjust="spacingAndGlyphs" stroke="#a81c40" stroke-width="0.12">29</text>
<text x="263.74" y="680.80" font-size="10.1" text-anchor="middle" fill="#a81c40" textLength="10.8" lengthAdjust="spacingAndGlyphs" stroke="#a81c40" stroke-width="0.12">24</text>
<text x="311.25" y="680.80" font-size="10.1" text-anchor="middle" fill="#a81c40" textLength="10.8" lengthAdjust="spacingAndGlyphs" stroke="#a81c40" stroke-width="0.12">22</text>
<text x="358.76" y="680.80" font-size="10.1" text-anchor="middle" fill="#a81c40" textLength="10.8" lengthAdjust="spacingAndGlyphs" stroke="#a81c40" stroke-width="0.12">20</text>
<text x="406.27" y="680.80" font-size="10.1" text-anchor="middle" fill="#a81c40" textLength="10.8" lengthAdjust="spacingAndGlyphs" stroke="#a81c40" stroke-width="0.12">20</text>
<text x="453.79" y="680.80" font-size="10.1" text-anchor="middle" fill="#a81c40" textLength="10.8" lengthAdjust="spacingAndGlyphs" stroke="#a81c40" stroke-width="0.12">17</text>
<text x="501.30" y="680.80" font-size="10.1" text-anchor="middle" fill="#a81c40" textLength="10.8" lengthAdjust="spacingAndGlyphs" stroke="#a81c40" stroke-width="0.12">13</text>
<text x="97.20" y="695.80" font-size="9.9" text-anchor="end" fill="#4aa3d6" textLength="89.2" lengthAdjust="spacingAndGlyphs" stroke="#4aa3d6" stroke-width="0.15">Non-Hispanic White</text>
<text x="121.20" y="696.30" font-size="10.1" text-anchor="middle" fill="#4aa3d6" textLength="16.2" lengthAdjust="spacingAndGlyphs" stroke="#4aa3d6" stroke-width="0.12">952</text>
<text x="168.71" y="696.30" font-size="10.1" text-anchor="middle" fill="#4aa3d6" textLength="16.2" lengthAdjust="spacingAndGlyphs" stroke="#4aa3d6" stroke-width="0.12">677</text>
<text x="216.23" y="696.30" font-size="10.1" text-anchor="middle" fill="#4aa3d6" textLength="16.2" lengthAdjust="spacingAndGlyphs" stroke="#4aa3d6" stroke-width="0.12">505</text>
<text x="263.74" y="696.30" font-size="10.1" text-anchor="middle" fill="#4aa3d6" textLength="16.2" lengthAdjust="spacingAndGlyphs" stroke="#4aa3d6" stroke-width="0.12">455</text>
<text x="311.25" y="696.30" font-size="10.1" text-anchor="middle" fill="#4aa3d6" textLength="16.2" lengthAdjust="spacingAndGlyphs" stroke="#4aa3d6" stroke-width="0.12">403</text>
<text x="358.76" y="696.30" font-size="10.1" text-anchor="middle" fill="#4aa3d6" textLength="16.2" lengthAdjust="spacingAndGlyphs" stroke="#4aa3d6" stroke-width="0.12">323</text>
<text x="406.27" y="696.30" font-size="10.1" text-anchor="middle" fill="#4aa3d6" textLength="16.2" lengthAdjust="spacingAndGlyphs" stroke="#4aa3d6" stroke-width="0.12">301</text>
<text x="453.79" y="696.30" font-size="10.1" text-anchor="middle" fill="#4aa3d6" textLength="16.2" lengthAdjust="spacingAndGlyphs" stroke="#4aa3d6" stroke-width="0.12">278</text>
<text x="501.30" y="696.30" font-size="10.1" text-anchor="middle" fill="#4aa3d6" textLength="16.2" lengthAdjust="spacingAndGlyphs" stroke="#4aa3d6" stroke-width="0.12">223</text>
<text x="52.80" y="751.40" font-size="18.2" text-anchor="start" fill="#111" font-weight="bold" textLength="13.0" lengthAdjust="spacingAndGlyphs" >C</text>
<text x="313.60" y="751.40" font-size="13.5" text-anchor="middle" fill="#222" textLength="18.2" lengthAdjust="spacingAndGlyphs" >OS</text>
<path d="M121.2,764.0 L123.3,764.0 L123.3,764.8 L125.3,764.8 L125.3,765.5 L127.4,765.5 L127.4,766.2 L129.5,766.2 L129.5,767.0 L131.4,767.0 L131.4,767.6 L133.4,767.6 L133.4,768.2 L135.3,768.2 L135.3,768.9 L137.2,768.9 L137.2,769.5 L139.2,769.5 L139.2,770.1 L141.1,770.1 L141.1,770.7 L142.8,770.7 L142.8,771.7 L144.6,771.7 L144.6,772.6 L146.3,772.6 L146.3,773.5 L148.0,773.5 L148.0,774.5 L149.5,774.5 L149.5,775.7 L151.1,775.7 L151.1,776.8 L152.6,776.8 L152.6,778.0 L153.8,778.0 L153.8,777.6 L160.7,777.6 L160.8,777.6 L160.8,779.3 L161.0,779.3 L161.0,781.0 L162.8,781.0 L162.8,781.8 L164.6,781.8 L164.6,782.6 L166.4,782.6 L166.4,783.4 L168.3,783.4 L168.3,784.9 L170.3,784.9 L170.3,786.5 L172.2,786.5 L172.2,788.0 L173.4,788.0 L173.4,789.8 L174.6,789.8 L174.6,791.5 L176.1,791.5 L176.1,792.1 L177.7,792.1 L177.7,792.7 L179.2,792.7 L179.2,793.3 L181.4,793.3 L181.4,793.3 L183.6,793.3 L183.6,793.3 L185.8,793.3 L185.8,793.3 L187.9,793.3 L187.9,793.4 L190.1,793.4 L190.1,793.4 L192.3,793.4 L192.3,793.4 L194.5,793.4 L194.5,793.4 L196.7,793.4 L196.7,793.4 L198.8,793.4 L198.8,793.5 L201.0,793.5 L201.0,793.5 L203.2,793.5 L203.2,793.5 L205.4,793.5 L205.4,793.5 L206.2,793.5 L206.2,795.4 L206.9,795.4 L206.9,797.3 L207.7,797.3 L207.7,799.2 L209.6,799.2 L209.6,800.0 L211.5,800.0 L211.5,800.8 L213.4,800.8 L213.4,801.2 L215.3,801.2 L215.3,801.5 L217.3,801.5 L217.3,801.9 L219.2,801.9 L219.2,802.3 L221.1,802.3 L221.1,802.5 L223.1,802.5 L223.1,802.7 L225.0,802.7 L225.0,802.9 L226.9,802.9 L226.9,803.1 L228.4,803.1 L228.4,803.9 L230.0,803.9 L230.0,804.6 L231.5,804.6 L231.5,805.4 L233.1,805.4 L233.1,805.9 L234.6,805.9 L234.6,806.4 L236.2,806.4 L236.2,806.9 L238.2,806.9 L238.2,807.4 L240.3,807.4 L240.3,808.0 L242.3,808.0 L242.3,808.5 L243.7,808.5 L243.7,809.0 L245.0,809.0 L245.0,809.5 L246.6,809.5 L246.6,811.3 L248.1,811.3 L248.1,813.1 L249.6,813.1 L249.6,813.6 L251.2,813.6 L251.2,814.1 L252.7,814.1 L252.7,814.6 L254.6,814.6 L254.6,815.0 L256.5,815.0 L256.5,815.4 L258.5,815.4 L258.5,815.8 L260.4,815.8 L260.4,816.2 L261.7,816.2 L261.7,816.5 L263.0,816.5 L263.0,816.9 L282.0,816.9 L282.0,820.0 L292.0,820.0 L292.0,823.1 L297.3,823.1 L297.3,825.4 L303.5,825.4 L303.5,827.7 L312.7,827.7 L312.7,830.0 L317.3,830.0 L317.3,832.3 L320.4,832.3 L320.4,834.5 L332.3,834.5 L332.3,836.5 L335.4,836.5 L335.4,838.1 L336.9,838.1 L336.9,840.4 L343.1,840.4 L343.1,841.9 L359.6,841.9 L359.6,843.5 L374.6,843.5 L374.6,845.0 L381.1,845.0 L381.1,848.1 L396.0,848.1 L396.0,851.2 L397.0,851.2 L397.0,852.5 L404.2,852.5 L404.2,853.5 L427.0,853.5 L427.0,856.0 L430.4,856.0 L430.4,857.2 L462.4,857.2 L462.4,858.8 L467.7,858.8 L467.7,860.6 L477.2,860.6 L477.2,862.7 L493.1,862.7 L493.1,866.2 L501.3,866.2" fill="none" stroke="#432252" stroke-width="1.65" stroke-linejoin="miter"/>
<path d="M121.2,764.0 L122.8,764.0 L122.8,765.1 L124.5,765.1 L124.5,766.1 L126.1,766.1 L126.1,767.2 L127.8,767.2 L127.8,768.1 L129.5,768.1 L129.5,769.0 L130.1,769.0 L130.1,771.0 L130.7,771.0 L130.7,773.0 L131.2,773.0 L131.2,775.0 L131.8,775.0 L131.8,777.0 L133.6,777.0 L133.6,777.9 L135.3,777.9 L135.3,778.8 L137.1,778.8 L137.1,779.6 L138.8,779.6 L138.8,780.5 L139.9,780.5 L139.9,781.4 L141.1,781.4 L141.1,782.2 L142.2,782.2 L142.2,783.7 L143.4,783.7 L143.4,785.1 L154.9,785.1 L156.7,785.1 L156.7,786.2 L158.4,786.2 L158.4,787.4 L160.1,787.4 L160.1,788.2 L161.8,788.2 L161.8,789.1 L163.6,789.1 L163.6,790.5 L165.3,790.5 L165.3,792.0 L166.4,792.0 L166.4,793.5 L167.6,793.5 L167.6,794.9 L169.1,794.9 L169.1,795.3 L170.7,795.3 L170.7,795.7 L172.2,795.7 L172.2,796.1 L174.2,796.1 L174.2,797.7 L176.2,797.7 L176.2,799.2 L177.7,799.2 L177.7,800.4 L179.2,800.4 L179.2,801.5 L181.3,801.5 L181.3,801.8 L183.3,801.8 L183.3,802.0 L185.4,802.0 L185.4,802.3 L186.2,802.3 L186.2,804.2 L186.9,804.2 L186.9,806.2 L189.0,806.2 L189.0,806.4 L191.0,806.4 L191.0,806.7 L193.1,806.7 L193.1,806.9 L194.2,806.9 L194.2,808.0 L195.4,808.0 L195.4,809.2 L197.1,809.2 L197.1,809.4 L198.9,809.4 L198.9,809.6 L200.6,809.6 L200.6,809.8 L202.3,809.8 L202.3,810.0 L202.7,810.0 L202.7,811.1 L203.1,811.1 L203.1,812.3 L205.2,812.3 L205.2,812.6 L207.3,812.6 L207.3,812.9 L209.4,812.9 L209.4,813.2 L211.5,813.2 L211.5,813.5 L213.6,813.5 L213.6,813.6 L215.6,813.6 L215.6,813.7 L217.7,813.7 L217.7,813.8 L219.2,813.8 L219.2,816.4 L246.5,816.4 L246.5,818.8 L254.0,818.8 L254.0,820.3 L301.2,820.3 L301.2,823.5 L333.1,823.5 L333.1,826.5 L343.8,826.5 L343.8,829.9 L374.6,829.9 L374.6,835.3 L383.1,835.3 L383.1,838.8 L392.0,838.8 L392.0,842.3 L424.0,842.3 L424.0,844.6 L451.2,844.6 L451.2,849.5 L465.6,849.5 L465.6,851.0 L501.3,851.0" fill="none" stroke="#3b8c3e" stroke-width="1.65" stroke-linejoin="miter"/>
<path d="M121.2,764.0 L128.4,764.0 L129.6,764.0 L129.6,765.0 L130.7,765.0 L130.7,766.1 L132.7,766.1 L132.7,766.8 L134.8,766.8 L134.8,767.5 L136.8,767.5 L136.8,768.3 L138.8,768.3 L138.8,769.0 L140.5,769.0 L140.5,769.5 L142.2,769.5 L142.2,770.1 L142.8,770.1 L142.8,772.2 L143.4,772.2 L143.4,774.4 L144.0,774.4 L144.0,776.5 L145.7,776.5 L145.7,776.9 L147.4,776.9 L147.4,777.2 L149.1,777.2 L149.1,777.6 L151.0,777.6 L151.0,778.7 L153.0,778.7 L153.0,779.9 L154.9,779.9 L154.9,781.0 L155.9,781.0 L155.9,782.6 L156.8,782.6 L156.8,784.1 L157.8,784.1 L157.8,785.7 L159.8,785.7 L159.8,786.9 L161.8,786.9 L161.8,788.0 L162.9,788.0 L162.9,789.7 L164.1,789.7 L164.1,791.4 L165.8,791.4 L165.8,793.1 L167.6,793.1 L167.6,794.9 L169.1,794.9 L169.1,795.9 L170.7,795.9 L170.7,797.0 L172.2,797.0 L172.2,798.0 L174.3,798.0 L174.3,799.0 L176.5,799.0 L176.5,800.0 L177.1,800.0 L177.1,801.9 L177.7,801.9 L177.7,803.8 L179.2,803.8 L179.2,805.3 L180.8,805.3 L180.8,806.9 L182.3,806.9 L182.3,808.0 L183.8,808.0 L183.8,809.2 L185.4,809.2 L185.4,809.7 L186.9,809.7 L186.9,810.3 L188.5,810.3 L188.5,810.8 L190.0,810.8 L190.0,812.4 L206.5,812.4 L206.5,817.7 L213.8,817.7 L213.8,821.5 L214.6,821.5 L214.6,823.8 L249.0,823.8 L249.0,826.5 L251.2,826.5 L251.2,827.7 L253.5,827.7 L253.5,831.5 L269.6,831.5 L269.6,834.6 L278.0,834.6 L278.0,836.9 L288.1,836.9 L288.1,840.4 L406.5,840.4 L406.5,843.5 L423.5,843.5 L423.5,847.0 L501.3,847.0" fill="none" stroke="#9c1038" stroke-width="1.65" stroke-linejoin="miter"/>
<path d="M121.2,764.0 L123.3,764.0 L123.3,764.7 L125.3,764.7 L125.3,765.4 L127.4,765.4 L127.4,766.0 L129.5,766.0 L129.5,766.7 L131.4,766.7 L131.4,767.5 L133.4,767.5 L133.4,768.2 L135.3,768.2 L135.3,769.0 L137.2,769.0 L137.2,769.8 L139.2,769.8 L139.2,770.5 L141.1,770.5 L141.1,771.3 L142.8,771.3 L142.8,772.3 L144.6,772.3 L144.6,773.3 L146.3,773.3 L146.3,774.3 L148.0,774.3 L148.0,775.3 L149.7,775.3 L149.7,776.4 L151.4,776.4 L151.4,777.6 L153.2,777.6 L153.2,778.8 L154.9,778.8 L154.9,779.9 L156.7,779.9 L156.7,780.6 L158.6,780.6 L158.6,781.3 L160.4,781.3 L160.4,782.0 L162.3,782.0 L162.3,782.7 L164.1,782.7 L164.1,783.4 L165.8,783.4 L165.8,784.2 L167.6,784.2 L167.6,785.1 L169.3,785.1 L169.3,785.9 L171.1,785.9 L171.1,786.8 L173.3,786.8 L173.3,788.1 L175.5,788.1 L175.5,789.5 L177.7,789.5 L177.7,790.8 L179.6,790.8 L179.6,791.8 L181.6,791.8 L181.6,792.7 L183.5,792.7 L183.5,793.6 L185.4,793.6 L185.4,794.6 L187.3,794.6 L187.3,795.6 L189.2,795.6 L189.2,796.5 L191.2,796.5 L191.2,797.5 L193.1,797.5 L193.1,798.5 L195.0,798.5 L195.0,799.5 L196.9,799.5 L196.9,800.4 L198.9,800.4 L198.9,801.3 L200.8,801.3 L200.8,802.3 L202.7,802.3 L202.7,802.9 L204.7,802.9 L204.7,803.5 L206.6,803.5 L206.6,804.0 L208.5,804.0 L208.5,804.6 L210.4,804.6 L210.4,805.2 L212.3,805.2 L212.3,805.8 L214.3,805.8 L214.3,806.3 L216.2,806.3 L216.2,806.9 L218.1,806.9 L218.1,807.5 L220.0,807.5 L220.0,808.0 L221.9,808.0 L221.9,808.6 L223.8,808.6 L223.8,809.2 L225.7,809.2 L225.7,809.6 L227.7,809.6 L227.7,810.0 L229.6,810.0 L229.6,810.4 L231.5,810.4 L231.5,810.8 L233.4,810.8 L233.4,811.4 L235.3,811.4 L235.3,812.0 L237.3,812.0 L237.3,812.5 L239.2,812.5 L239.2,813.1 L241.1,813.1 L241.1,813.6 L243.1,813.6 L243.1,814.1 L245.0,814.1 L245.0,814.6 L246.9,814.6 L246.9,815.6 L248.8,815.6 L248.8,816.5 L250.8,816.5 L250.8,817.5 L252.7,817.5 L252.7,818.5 L254.6,818.5 L254.6,819.1 L256.5,819.1 L256.5,819.6 L258.5,819.6 L258.5,820.2 L260.4,820.2 L260.4,820.8 L262.3,820.8 L262.3,821.2 L264.2,821.2 L264.2,821.5 L266.2,821.5 L266.2,821.9 L268.1,821.9 L268.1,822.3 L270.0,822.3 L270.0,822.5 L272.0,822.5 L272.0,822.7 L273.9,822.7 L273.9,822.9 L275.8,822.9 L275.8,823.1 L277.7,823.1 L277.7,823.4 L279.6,823.4 L279.6,823.7 L281.6,823.7 L281.6,824.0 L283.5,824.0 L283.5,824.3 L285.4,824.3 L285.4,824.8 L287.4,824.8 L287.4,825.2 L289.3,825.2 L289.3,825.7 L291.2,825.7 L291.2,826.2 L293.1,826.2 L293.1,826.6 L295.0,826.6 L295.0,827.0 L296.9,827.0 L296.9,827.3 L298.8,827.3 L298.8,827.7 L300.7,827.7 L300.7,828.1 L302.6,828.1 L302.6,828.5 L304.6,828.5 L304.6,828.8 L306.5,828.8 L306.5,829.2 L308.4,829.2 L308.4,829.6 L310.4,829.6 L310.4,830.0 L312.3,830.0 L312.3,830.4 L314.2,830.4 L314.2,830.8 L316.1,830.8 L316.1,831.4 L318.1,831.4 L318.1,832.1 L320.0,832.1 L320.0,832.7 L322.1,832.7 L322.1,833.0 L324.1,833.0 L324.1,833.2 L326.1,833.2 L326.1,833.5 L328.2,833.5 L328.2,833.7 L330.2,833.7 L330.2,834.0 L332.3,834.0 L332.3,834.2 L334.5,834.2 L334.5,834.5 L336.6,834.5 L336.6,834.8 L338.8,834.8 L338.8,835.2 L340.9,835.2 L340.9,835.5 L343.1,835.5 L343.1,835.8 L345.3,835.8 L345.3,836.1 L347.5,836.1 L347.5,836.5 L349.7,836.5 L349.7,836.8 L351.9,836.8 L351.9,837.1 L354.1,837.1 L354.1,837.4 L356.3,837.4 L356.3,837.8 L358.5,837.8 L358.5,838.1 L360.7,838.1 L360.7,838.3 L362.9,838.3 L362.9,838.5 L365.1,838.5 L365.1,838.7 L367.2,838.7 L367.2,839.0 L369.4,839.0 L369.4,839.2 L371.6,839.2 L371.6,839.4 L373.8,839.4 L373.8,839.6 L376.0,839.6 L376.0,839.8 L378.2,839.8 L378.2,840.1 L380.4,840.1 L380.4,840.3 L382.6,840.3 L382.6,840.5 L384.8,840.5 L384.8,840.7 L387.0,840.7 L387.0,841.0 L389.2,841.0 L389.2,841.2 L391.1,841.2 L391.1,841.8 L393.1,841.8 L393.1,842.4 L395.0,842.4 L395.0,843.0 L397.2,843.0 L397.2,843.2 L399.4,843.2 L399.4,843.5 L401.6,843.5 L401.6,843.7 L403.8,843.7 L403.8,843.9 L406.0,843.9 L406.0,844.1 L408.2,844.1 L408.2,844.4 L410.4,844.4 L410.4,844.6 L412.3,844.6 L412.3,844.8 L414.2,844.8 L414.2,845.0 L416.2,845.0 L416.2,845.2 L418.1,845.2 L418.1,845.4 L420.0,845.4 L420.0,845.6 L421.9,845.6 L421.9,845.8 L423.9,845.8 L423.9,846.0 L425.8,846.0 L425.8,846.2 L428.0,846.2 L428.0,846.4 L430.2,846.4 L430.2,846.6 L432.4,846.6 L432.4,846.8 L434.6,846.8 L434.6,847.1 L436.8,847.1 L436.8,847.3 L439.0,847.3 L439.0,847.5 L441.2,847.5 L441.2,847.7 L443.4,847.7 L443.4,847.9 L445.6,847.9 L445.6,848.1 L447.8,848.1 L447.8,848.3 L449.9,848.3 L449.9,848.6 L452.1,848.6 L452.1,848.8 L454.3,848.8 L454.3,849.0 L456.5,849.0 L456.5,849.2 L458.3,849.2 L458.3,849.5 L460.1,849.5 L460.1,849.9 L462.0,849.9 L462.0,850.2 L463.8,850.2 L463.8,850.6 L465.6,850.6 L465.6,850.9 L467.7,850.9 L467.7,851.0 L469.8,851.0 L469.8,851.0 L471.9,851.0 L471.9,851.1 L474.0,851.1 L474.0,851.1 L476.1,851.1 L476.1,851.2 L478.2,851.2 L478.2,851.3 L480.3,851.3 L480.3,851.3 L482.4,851.3 L482.4,851.4 L484.5,851.4 L484.5,851.4 L486.6,851.4 L486.6,851.5 L488.7,851.5 L488.7,851.5 L490.8,851.5 L490.8,851.6 L492.9,851.6 L492.9,851.7 L495.0,851.7 L495.0,851.7 L497.1,851.7 L497.1,851.8 L499.2,851.8 L499.2,851.8 L501.3,851.8 L501.3,851.9" fill="none" stroke="#3c98cc" stroke-width="1.65" stroke-linejoin="miter"/>
<path d="M121.20,759.80 V945.20 M116.40,945.20 H505.8" stroke="#141414" stroke-width="1.8" fill="none"/>
<path d="M116.40,945.20 H121.20 M116.40,908.96 H121.20 M116.40,872.72 H121.20 M116.40,836.48 H121.20 M116.40,800.24 H121.20 M116.40,764.00 H121.20 M121.20,945.20 V949.70 M168.71,945.20 V949.70 M216.23,945.20 V949.70 M263.74,945.20 V949.70 M311.25,945.20 V949.70 M358.76,945.20 V949.70 M406.27,945.20 V949.70 M453.79,945.20 V949.70 M501.30,945.20 V949.70 " stroke="#141414" stroke-width="1.6" fill="none"/>
<text x="112.00" y="948.90" font-size="10.6" text-anchor="end" fill="#333" textLength="5.3" lengthAdjust="spacingAndGlyphs" >0</text>
<text x="112.00" y="912.66" font-size="10.6" text-anchor="end" fill="#333" textLength="10.6" lengthAdjust="spacingAndGlyphs" >20</text>
<text x="112.00" y="876.42" font-size="10.6" text-anchor="end" fill="#333" textLength="10.6" lengthAdjust="spacingAndGlyphs" >40</text>
<text x="112.00" y="840.18" font-size="10.6" text-anchor="end" fill="#333" textLength="10.6" lengthAdjust="spacingAndGlyphs" >60</text>
<text x="112.00" y="803.94" font-size="10.6" text-anchor="end" fill="#333" textLength="10.6" lengthAdjust="spacingAndGlyphs" >80</text>
<text x="112.00" y="767.70" font-size="10.6" text-anchor="end" fill="#333" textLength="15.9" lengthAdjust="spacingAndGlyphs" >100</text>
<text x="121.20" y="963.00" font-size="10.6" text-anchor="middle" fill="#333" textLength="5.1" lengthAdjust="spacingAndGlyphs" >0</text>
<text x="168.71" y="963.00" font-size="10.6" text-anchor="middle" fill="#333" textLength="5.1" lengthAdjust="spacingAndGlyphs" >3</text>
<text x="216.23" y="963.00" font-size="10.6" text-anchor="middle" fill="#333" textLength="5.1" lengthAdjust="spacingAndGlyphs" >6</text>
<text x="263.74" y="963.00" font-size="10.6" text-anchor="middle" fill="#333" textLength="5.1" lengthAdjust="spacingAndGlyphs" >9</text>
<text x="311.25" y="963.00" font-size="10.6" text-anchor="middle" fill="#333" textLength="10.2" lengthAdjust="spacingAndGlyphs" >12</text>
<text x="358.76" y="963.00" font-size="10.6" text-anchor="middle" fill="#333" textLength="10.2" lengthAdjust="spacingAndGlyphs" >15</text>
<text x="406.27" y="963.00" font-size="10.6" text-anchor="middle" fill="#333" textLength="10.2" lengthAdjust="spacingAndGlyphs" >18</text>
<text x="453.79" y="963.00" font-size="10.6" text-anchor="middle" fill="#333" textLength="10.2" lengthAdjust="spacingAndGlyphs" >21</text>
<text x="501.30" y="963.00" font-size="10.6" text-anchor="middle" fill="#333" textLength="10.2" lengthAdjust="spacingAndGlyphs" >24</text>
<text x="0" y="0" font-size="13" fill="#222" textLength="127.5" lengthAdjust="spacingAndGlyphs" transform="translate(87.0,915.60) rotate(-90)">Probability (%) of event free</text>
<text x="313.50" y="980.80" font-size="12.6" text-anchor="middle" fill="#1e1e1e" textLength="168" lengthAdjust="spacingAndGlyphs" stroke="#1e1e1e" stroke-width="0.25">Time from date of infusion (months)</text>
<path d="M130.5,883.70 H144.6" stroke="#432252" stroke-width="2"/>
<text x="149.60" y="887.00" font-size="10.0" text-anchor="start" fill="#1e1e1e" stroke="#1e1e1e" stroke-width="0.12">Hispanic</text>
<path d="M130.5,899.10 H144.6" stroke="#3b8c3e" stroke-width="2"/>
<text x="149.60" y="902.40" font-size="10.0" text-anchor="start" fill="#1e1e1e" stroke="#1e1e1e" stroke-width="0.12">Non-Hispanic Asian</text>
<path d="M130.5,914.60 H144.6" stroke="#9c1038" stroke-width="2"/>
<text x="149.60" y="917.90" font-size="10.0" text-anchor="start" fill="#1e1e1e" stroke="#1e1e1e" stroke-width="0.12">Non-Hispanic Black</text>
<path d="M130.5,930.20 H144.6" stroke="#3c98cc" stroke-width="2"/>
<text x="149.60" y="933.50" font-size="10.0" text-anchor="start" fill="#1e1e1e" stroke="#1e1e1e" stroke-width="0.12">Non-Hispanic White</text>
<text x="97.00" y="997.50" font-size="10.4" text-anchor="end" fill="#1e1e1e" textLength="64.5" lengthAdjust="spacingAndGlyphs" stroke="#1e1e1e" stroke-width="0.2">Patients at risk</text>
<text x="97.20" y="1012.50" font-size="9.9" text-anchor="end" fill="#4e3766" textLength="37.5" lengthAdjust="spacingAndGlyphs" stroke="#4e3766" stroke-width="0.15">Hispanic</text>
<text x="121.20" y="1012.90" font-size="10.1" text-anchor="middle" fill="#4e3766" textLength="16.2" lengthAdjust="spacingAndGlyphs" stroke="#4e3766" stroke-width="0.12">152</text>
<text x="168.71" y="1012.90" font-size="10.1" text-anchor="middle" fill="#4e3766" textLength="16.2" lengthAdjust="spacingAndGlyphs" stroke="#4e3766" stroke-width="0.12">135</text>
<text x="216.23" y="1012.90" font-size="10.1" text-anchor="middle" fill="#4e3766" textLength="16.2" lengthAdjust="spacingAndGlyphs" stroke="#4e3766" stroke-width="0.12">119</text>
<text x="263.74" y="1012.90" font-size="10.1" text-anchor="middle" fill="#4e3766" textLength="16.2" lengthAdjust="spacingAndGlyphs" stroke="#4e3766" stroke-width="0.12">105</text>
<text x="311.25" y="1012.90" font-size="10.1" text-anchor="middle" fill="#4e3766" textLength="10.8" lengthAdjust="spacingAndGlyphs" stroke="#4e3766" stroke-width="0.12">87</text>
<text x="358.76" y="1012.90" font-size="10.1" text-anchor="middle" fill="#4e3766" textLength="10.8" lengthAdjust="spacingAndGlyphs" stroke="#4e3766" stroke-width="0.12">68</text>
<text x="406.27" y="1012.90" font-size="10.1" text-anchor="middle" fill="#4e3766" textLength="10.8" lengthAdjust="spacingAndGlyphs" stroke="#4e3766" stroke-width="0.12">59</text>
<text x="453.79" y="1012.90" font-size="10.1" text-anchor="middle" fill="#4e3766" textLength="10.8" lengthAdjust="spacingAndGlyphs" stroke="#4e3766" stroke-width="0.12">54</text>
<text x="501.30" y="1012.90" font-size="10.1" text-anchor="middle" fill="#4e3766" textLength="10.8" lengthAdjust="spacingAndGlyphs" stroke="#4e3766" stroke-width="0.12">39</text>
<text x="97.20" y="1028.10" font-size="9.9" text-anchor="end" fill="#52a44a" textLength="87.4" lengthAdjust="spacingAndGlyphs" stroke="#52a44a" stroke-width="0.15">Non-Hispanic Asian</text>
<text x="121.20" y="1028.50" font-size="10.1" text-anchor="middle" fill="#52a44a" textLength="10.8" lengthAdjust="spacingAndGlyphs" stroke="#52a44a" stroke-width="0.12">78</text>
<text x="168.71" y="1028.50" font-size="10.1" text-anchor="middle" fill="#52a44a" textLength="10.8" lengthAdjust="spacingAndGlyphs" stroke="#52a44a" stroke-width="0.12">62</text>
<text x="216.23" y="1028.50" font-size="10.1" text-anchor="middle" fill="#52a44a" textLength="10.8" lengthAdjust="spacingAndGlyphs" stroke="#52a44a" stroke-width="0.12">55</text>
<text x="263.74" y="1028.50" font-size="10.1" text-anchor="middle" fill="#52a44a" textLength="10.8" lengthAdjust="spacingAndGlyphs" stroke="#52a44a" stroke-width="0.12">51</text>
<text x="311.25" y="1028.50" font-size="10.1" text-anchor="middle" fill="#52a44a" textLength="10.8" lengthAdjust="spacingAndGlyphs" stroke="#52a44a" stroke-width="0.12">47</text>
<text x="358.76" y="1028.50" font-size="10.1" text-anchor="middle" fill="#52a44a" textLength="10.8" lengthAdjust="spacingAndGlyphs" stroke="#52a44a" stroke-width="0.12">38</text>
<text x="406.27" y="1028.50" font-size="10.1" text-anchor="middle" fill="#52a44a" textLength="10.8" lengthAdjust="spacingAndGlyphs" stroke="#52a44a" stroke-width="0.12">33</text>
<text x="453.79" y="1028.50" font-size="10.1" text-anchor="middle" fill="#52a44a" textLength="10.8" lengthAdjust="spacingAndGlyphs" stroke="#52a44a" stroke-width="0.12">31</text>
<text x="501.30" y="1028.50" font-size="10.1" text-anchor="middle" fill="#52a44a" textLength="10.8" lengthAdjust="spacingAndGlyphs" stroke="#52a44a" stroke-width="0.12">20</text>
<text x="97.20" y="1043.40" font-size="9.9" text-anchor="end" fill="#a81c40" textLength="85.9" lengthAdjust="spacingAndGlyphs" stroke="#a81c40" stroke-width="0.15">Non-Hispanic Black</text>
<text x="121.20" y="1043.80" font-size="10.1" text-anchor="middle" fill="#a81c40" textLength="10.8" lengthAdjust="spacingAndGlyphs" stroke="#a81c40" stroke-width="0.12">68</text>
<text x="168.71" y="1043.80" font-size="10.1" text-anchor="middle" fill="#a81c40" textLength="10.8" lengthAdjust="spacingAndGlyphs" stroke="#a81c40" stroke-width="0.12">55</text>
<text x="216.23" y="1043.80" font-size="10.1" text-anchor="middle" fill="#a81c40" textLength="10.8" lengthAdjust="spacingAndGlyphs" stroke="#a81c40" stroke-width="0.12">44</text>
<text x="263.74" y="1043.80" font-size="10.1" text-anchor="middle" fill="#a81c40" textLength="10.8" lengthAdjust="spacingAndGlyphs" stroke="#a81c40" stroke-width="0.12">40</text>
<text x="311.25" y="1043.80" font-size="10.1" text-anchor="middle" fill="#a81c40" textLength="10.8" lengthAdjust="spacingAndGlyphs" stroke="#a81c40" stroke-width="0.12">35</text>
<text x="358.76" y="1043.80" font-size="10.1" text-anchor="middle" fill="#a81c40" textLength="10.8" lengthAdjust="spacingAndGlyphs" stroke="#a81c40" stroke-width="0.12">33</text>
<text x="406.27" y="1043.80" font-size="10.1" text-anchor="middle" fill="#a81c40" textLength="10.8" lengthAdjust="spacingAndGlyphs" stroke="#a81c40" stroke-width="0.12">31</text>
<text x="453.79" y="1043.80" font-size="10.1" text-anchor="middle" fill="#a81c40" textLength="10.8" lengthAdjust="spacingAndGlyphs" stroke="#a81c40" stroke-width="0.12">27</text>
<text x="501.30" y="1043.80" font-size="10.1" text-anchor="middle" fill="#a81c40" textLength="10.8" lengthAdjust="spacingAndGlyphs" stroke="#a81c40" stroke-width="0.12">22</text>
<text x="97.20" y="1058.80" font-size="9.9" text-anchor="end" fill="#4aa3d6" textLength="89.2" lengthAdjust="spacingAndGlyphs" stroke="#4aa3d6" stroke-width="0.15">Non-Hispanic White</text>
<text x="121.20" y="1059.30" font-size="10.1" text-anchor="middle" fill="#4aa3d6" textLength="16.2" lengthAdjust="spacingAndGlyphs" stroke="#4aa3d6" stroke-width="0.12">992</text>
<text x="168.71" y="1059.30" font-size="10.1" text-anchor="middle" fill="#4aa3d6" textLength="16.2" lengthAdjust="spacingAndGlyphs" stroke="#4aa3d6" stroke-width="0.12">862</text>
<text x="216.23" y="1059.30" font-size="10.1" text-anchor="middle" fill="#4aa3d6" textLength="16.2" lengthAdjust="spacingAndGlyphs" stroke="#4aa3d6" stroke-width="0.12">723</text>
<text x="263.74" y="1059.30" font-size="10.1" text-anchor="middle" fill="#4aa3d6" textLength="16.2" lengthAdjust="spacingAndGlyphs" stroke="#4aa3d6" stroke-width="0.12">638</text>
<text x="311.25" y="1059.30" font-size="10.1" text-anchor="middle" fill="#4aa3d6" textLength="16.2" lengthAdjust="spacingAndGlyphs" stroke="#4aa3d6" stroke-width="0.12">554</text>
<text x="358.76" y="1059.30" font-size="10.1" text-anchor="middle" fill="#4aa3d6" textLength="16.2" lengthAdjust="spacingAndGlyphs" stroke="#4aa3d6" stroke-width="0.12">432</text>
<text x="406.27" y="1059.30" font-size="10.1" text-anchor="middle" fill="#4aa3d6" textLength="16.2" lengthAdjust="spacingAndGlyphs" stroke="#4aa3d6" stroke-width="0.12">398</text>
<text x="453.79" y="1059.30" font-size="10.1" text-anchor="middle" fill="#4aa3d6" textLength="16.2" lengthAdjust="spacingAndGlyphs" stroke="#4aa3d6" stroke-width="0.12">368</text>
<text x="501.30" y="1059.30" font-size="10.1" text-anchor="middle" fill="#4aa3d6" textLength="16.2" lengthAdjust="spacingAndGlyphs" stroke="#4aa3d6" stroke-width="0.12">293</text>
<rect x="0.5" y="0.5" width="519" height="1071" fill="none" stroke="#151515" stroke-width="1"/>
</svg>
</body></html>
